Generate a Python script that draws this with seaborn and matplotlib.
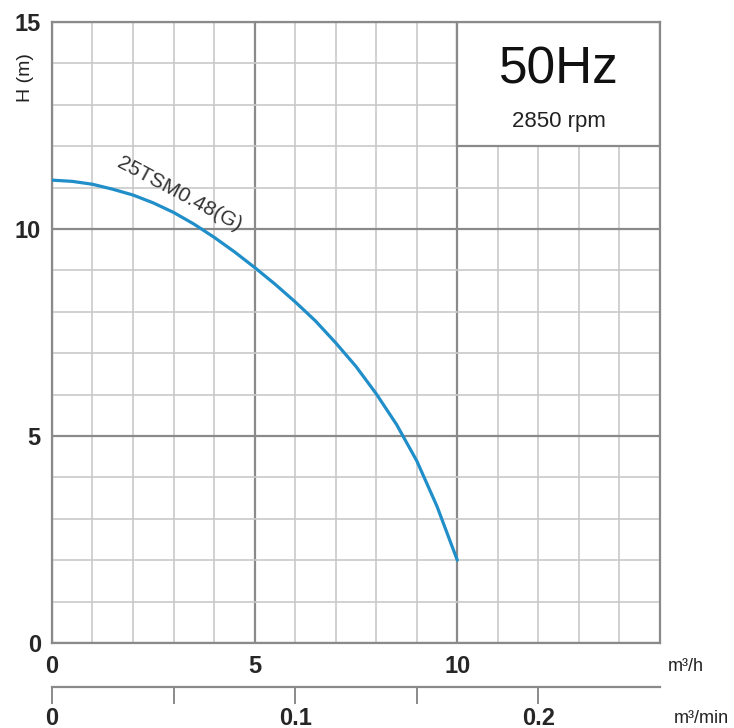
import numpy as np
import pandas as pd
import matplotlib.pyplot as plt
from matplotlib.patches import Rectangle
import seaborn as sns

# pump curve
flow = [0, 0.5, 1, 1.5, 2, 2.5, 3, 3.5, 4, 4.5, 5, 5.5, 6, 6.5, 7, 7.5, 8, 8.5, 9, 9.5, 10]
head = [11.18, 11.15, 11.08, 10.96, 10.82, 10.63, 10.4, 10.12, 9.8, 9.45, 9.07,
        8.67, 8.24, 7.78, 7.25, 6.68, 6.02, 5.28, 4.4, 3.3, 2.0]
model = "25TSM0.48(G)"

x_ticks = [0, 5, 10]
y_ticks = [0, 5, 10, 15]
min_ticks = [0, 0.1, 0.2]
min_labels = ['0', '0.1', '0.2']
min_minor = [0.05, 0.15]

sns.set_theme(style="white")
plt.rcParams['font.family'] = ['Liberation Sans Narrow', 'Liberation Sans', 'DejaVu Sans']

df = pd.DataFrame({'Q': flow, 'H': head})

fig = plt.figure(figsize=(7.34, 7.28), dpi=100)
ax = fig.add_axes([0.0708, 0.1168, 0.8283, 0.853])

sns.lineplot(data=df, x='Q', y='H', ax=ax, color='#1f8ec9', linewidth=2.3, zorder=3)

ax.set_xlim(0, 15)
ax.set_ylim(0, 15)
ax.set_xticks(x_ticks)
ax.set_yticks(y_ticks)
ax.set_xticks(np.arange(0, 16), minor=True)
ax.set_yticks(np.arange(0, 16), minor=True)
ax.set_axisbelow(True)
ax.grid(which='minor', color='#c9c9c9', linewidth=1.2)
ax.grid(which='major', color='#8a8a8a', linewidth=1.6)
ax.tick_params(which='both', length=0)
ax.tick_params(axis='x', pad=9, labelsize=17)
ax.tick_params(axis='y', pad=8, labelsize=17)
for lab in ax.get_xticklabels() + ax.get_yticklabels():
    lab.set_fontweight('bold')
for s in ax.spines.values():
    s.set_color('#8a8a8a')
    s.set_linewidth(1.6)

ax.set_xlabel('')
ax.set_ylabel('H (m)', fontsize=14, color='#222222')
ax.yaxis.set_label_coords(-0.03, 0.91)

# frequency box in the top right corner
ax.add_patch(Rectangle((10, 12), 5, 3, facecolor='white', edgecolor='#8a8a8a',
                       linewidth=1.6, zorder=1))
ax.text(12.5, 13.85, '50Hz', ha='center', va='center', fontsize=37, color='#111111', zorder=4)
ax.text(12.5, 12.6, '2850 rpm', ha='center', va='center', fontsize=16, color='#222222', zorder=4)

ax.text(3.15, 10.85, model, rotation=-28, ha='center', va='center',
        fontsize=15, color='#333333', zorder=4)

# second flow scale in m3/min
sec = ax.secondary_xaxis(-0.071, functions=(lambda q: q / 60, lambda q: q * 60))
sec.set_xticks(min_ticks, labels=min_labels)
sec.set_xticks(min_minor, minor=True)
sec.tick_params(which='both', direction='out', length=12, width=1.4, color='#8a8a8a',
                pad=2, labelsize=17)
for lab in sec.get_xticklabels():
    lab.set_fontweight('bold')
sec.spines['bottom'].set_color('#8a8a8a')
sec.spines['bottom'].set_linewidth(1.6)

fig.text(0.935, 0.084, 'm³/h', ha='center', va='center', fontsize=13, color='#222222')
fig.text(0.955, 0.013, 'm³/min', ha='center', va='center', fontsize=13, color='#222222')

fig.savefig('out.png', dpi=100, facecolor='white')
